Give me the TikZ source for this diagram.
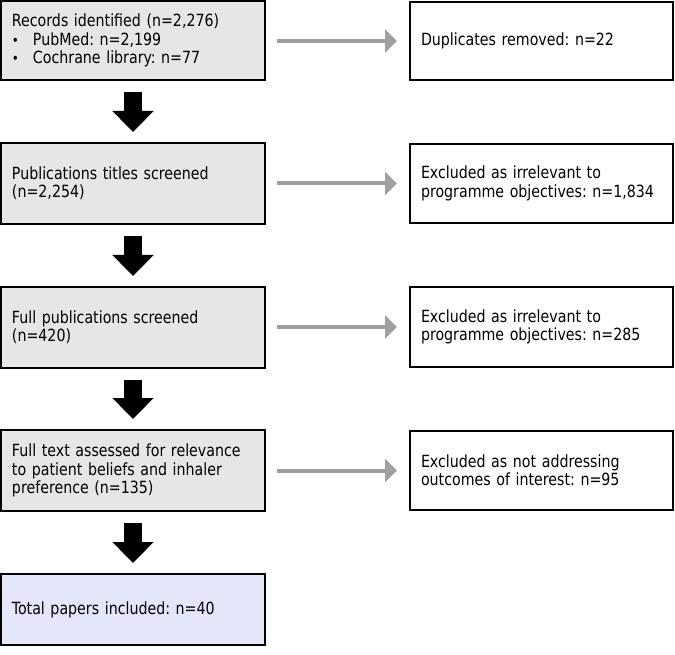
\documentclass[tikz,border=0pt]{standalone}
\usepackage{fontspec}
\setmainfont{DejaVu Sans Condensed}[FakeStretch=0.94]
\usetikzlibrary{arrows.meta}
\definecolor{boxgray}{RGB}{230,230,230}
\definecolor{boxlav}{RGB}{230,230,250}
\definecolor{arrgray}{RGB}{160,160,160}
\newcommand{\bulletmark}{\makebox[21pt][l]{\fontsize{14}{14}\selectfont•}}
\tikzset{
  leftbox/.style={draw=black, line width=2pt, fill=boxgray, rectangle,
    minimum width=264pt, text width=242pt, align=left, inner xsep=11pt,
    font=\fontsize{16.8}{18.4}\selectfont},
  rightbox/.style={draw=black, line width=2pt, fill=white, rectangle,
    minimum width=263pt, text width=241pt, align=left, inner xsep=11pt,
    font=\fontsize{16.8}{18.4}\selectfont},
  bigarrow/.style={line width=18pt, draw=black,
    -{Triangle[width=40pt,length=21pt]}},
  grayarrow/.style={line width=4pt, draw=arrgray,
    -{Triangle[width=23pt,length=12pt]}, shorten <=11pt, shorten >=12pt}
}
\frenchspacing
\begin{document}
\begin{tikzpicture}[x=1pt,y=1pt]
\useasboundingbox (0,0) rectangle (675,-655);
\node[leftbox, minimum height=79pt] (b1) at (133,-40.5)
  {Records identified (n=2,276)\\
   \bulletmark PubMed: n=2,199\\
   \bulletmark Cochrane library: n=77};
\node[leftbox, minimum height=81pt] (b2) at (133,-183.5)
  {Publications titles screened\\(n=2,254)};
\node[leftbox, minimum height=81pt] (b3) at (133,-327.5)
  {Full publications screened\\(n=420)};
\node[leftbox, minimum height=81pt] (b4) at (133,-470.5)
  {Full text assessed for relevance\\to patient beliefs and inhaler\\preference (n=135)};
\node[leftbox, fill=boxlav, minimum height=71pt] (b5) at (133,-609.5)
  {Total papers included: n=40};
\node[rightbox, minimum height=78pt] (r1) at (541.5,-41)
  {Duplicates removed: n=22};
\node[rightbox, minimum height=79pt] (r2) at (541.5,-183.5)
  {Excluded as irrelevant to\\programme objectives: n=1,834};
\node[rightbox, minimum height=80pt] (r3) at (541.5,-327)
  {Excluded as irrelevant to\\programme objectives: n=285};
\node[rightbox, minimum height=79pt] (r4) at (541.5,-470.5)
  {Excluded as not addressing\\outcomes of interest: n=95};
\foreach \a/\b in {b1/b2,b2/b3,b3/b4,b4/b5}
  \draw[bigarrow, shorten <=11pt, shorten >=10pt] (\a.south) -- (\b.north);
\foreach \a/\b in {b1/r1,b2/r2,b3/r3,b4/r4}
  \draw[grayarrow] (\a.east |- \b.west) -- (\b.west);
\end{tikzpicture}
\end{document}
